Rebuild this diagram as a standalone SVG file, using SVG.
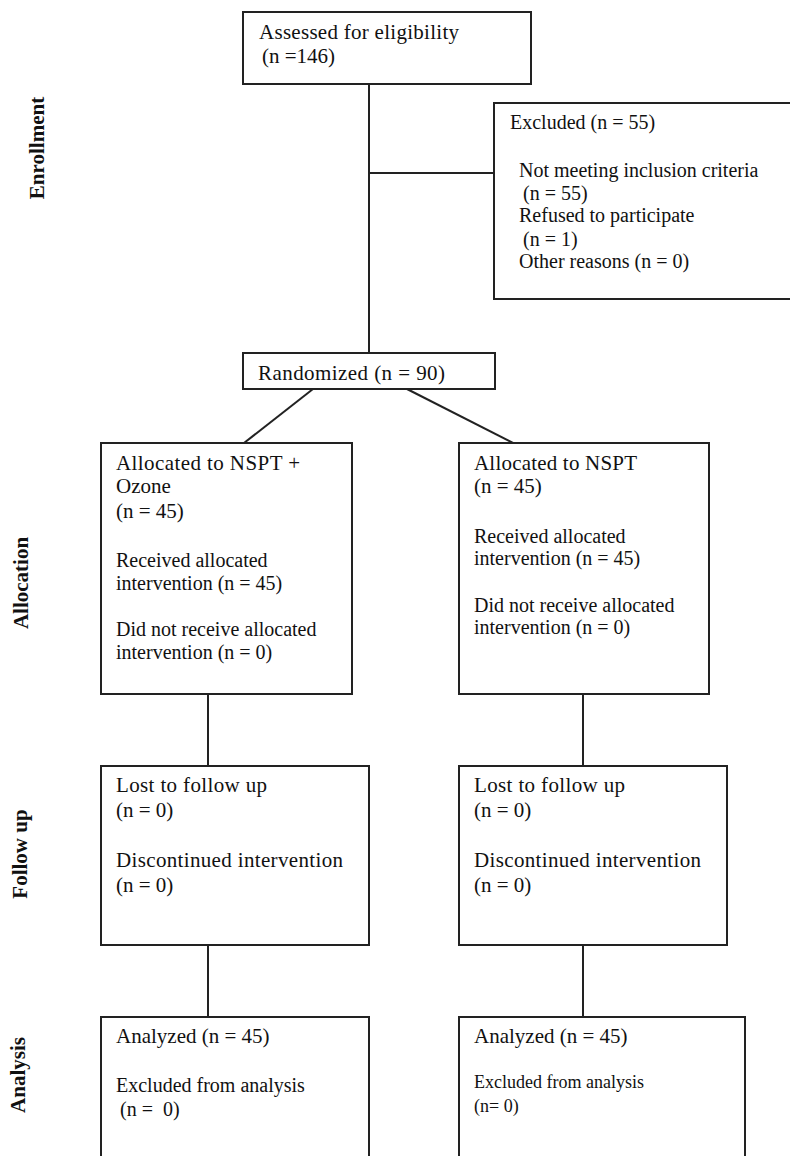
<svg xmlns="http://www.w3.org/2000/svg" width="790" height="1156" viewBox="0 0 790 1156">
<style>
.box{fill:#fff;stroke:#222;stroke-width:2}
.t{font-family:"Liberation Serif","Times New Roman",serif;font-size:20px;fill:#111}
.b{font-size:21px}
.s{font-size:18px}
.lab{font-family:"Liberation Serif","Times New Roman",serif;font-size:21px;font-weight:bold;fill:#111}
.c{stroke:#222;stroke-width:2;fill:none}
</style>
<rect width="790" height="1156" fill="#fff"/>
<g id="connectors">
<line class="c" x1="369" y1="84" x2="369" y2="353"/>
<line class="c" x1="369" y1="173" x2="494" y2="173"/>
<line class="c" x1="313" y1="389" x2="244" y2="443"/>
<line class="c" x1="407" y1="389" x2="513" y2="443"/>
<line class="c" x1="208" y1="694" x2="208" y2="766"/>
<line class="c" x1="208" y1="945" x2="208" y2="1017"/>
<line class="c" x1="583" y1="694" x2="583" y2="766"/>
<line class="c" x1="583" y1="945" x2="583" y2="1017"/>
</g>
<g id="labels">
<text class="lab" transform="translate(44,148) rotate(-90)" text-anchor="middle">Enrollment</text>
<text class="lab" transform="translate(28,583) rotate(-90)" text-anchor="middle">Allocation</text>
<text class="lab" transform="translate(27,854) rotate(-90)" text-anchor="middle">Follow up</text>
<text class="lab" transform="translate(25,1075) rotate(-90)" text-anchor="middle">Analysis</text>
</g>
<g id="assessed">
<rect class="box" x="243" y="12" width="288" height="72"/>
<text class="t b" x="259" y="39" textLength="200">Assessed for eligibility</text>
<text class="t b" x="262" y="63">(n =146)</text>
</g>
<g id="excluded">
<rect class="box" x="494" y="103" width="300" height="196"/>
<text class="t" x="510" y="129">Excluded (n = 55)</text>
<text class="t" x="519" y="177">Not meeting inclusion criteria</text>
<text class="t" x="523" y="200">(n = 55)</text>
<text class="t" x="519" y="222">Refused to participate</text>
<text class="t" x="523" y="246">(n = 1)</text>
<text class="t" x="519" y="268">Other reasons (n = 0)</text>
</g>
<g id="randomized">
<rect class="box" x="243" y="353" width="252" height="36"/>
<text class="t b" x="258" y="380" textLength="187">Randomized (n = 90)</text>
</g>
<g id="alloc-left">
<rect class="box" x="101" y="443" width="251" height="251"/>
<text class="t b" x="116" y="470" textLength="184">Allocated to NSPT +</text>
<text class="t b" x="116" y="493">Ozone</text>
<text class="t b" x="116" y="518">(n = 45)</text>
<text class="t" x="116" y="567">Received allocated</text>
<text class="t" x="116" y="590">intervention (n = 45)</text>
<text class="t" x="116" y="636">Did not receive allocated</text>
<text class="t" x="116" y="659">intervention (n = 0)</text>
</g>
<g id="alloc-right">
<rect class="box" x="459" y="443" width="250" height="251"/>
<text class="t b" x="474" y="470" textLength="163">Allocated to NSPT</text>
<text class="t b" x="474" y="493">(n = 45)</text>
<text class="t" x="474" y="543">Received allocated</text>
<text class="t" x="474" y="565">intervention (n = 45)</text>
<text class="t" x="474" y="612">Did not receive allocated</text>
<text class="t" x="474" y="634">intervention (n = 0)</text>
</g>
<g id="follow-left">
<rect class="box" x="101" y="766" width="268" height="179"/>
<text class="t b" x="116" y="792" textLength="151">Lost to follow up</text>
<text class="t b" x="116" y="817">(n = 0)</text>
<text class="t b" x="116" y="867" textLength="227">Discontinued intervention</text>
<text class="t b" x="116" y="892">(n = 0)</text>
</g>
<g id="follow-right">
<rect class="box" x="459" y="766" width="268" height="179"/>
<text class="t b" x="474" y="792" textLength="151">Lost to follow up</text>
<text class="t b" x="474" y="817">(n = 0)</text>
<text class="t b" x="474" y="867" textLength="227">Discontinued intervention</text>
<text class="t b" x="474" y="892">(n = 0)</text>
</g>
<g id="analysis-left">
<rect class="box" x="101" y="1017" width="268" height="160"/>
<text class="t b" x="116" y="1043">Analyzed (n = 45)</text>
<text class="t" x="116" y="1092">Excluded from analysis</text>
<text class="t" x="120" y="1116" xml:space="preserve">(n =  0)</text>
</g>
<g id="analysis-right">
<rect class="box" x="459" y="1017" width="286" height="160"/>
<text class="t b" x="474" y="1043">Analyzed (n = 45)</text>
<text class="t s" x="474" y="1088">Excluded from analysis</text>
<text class="t s" x="474" y="1112">(n= 0)</text>
</g>
</svg>
